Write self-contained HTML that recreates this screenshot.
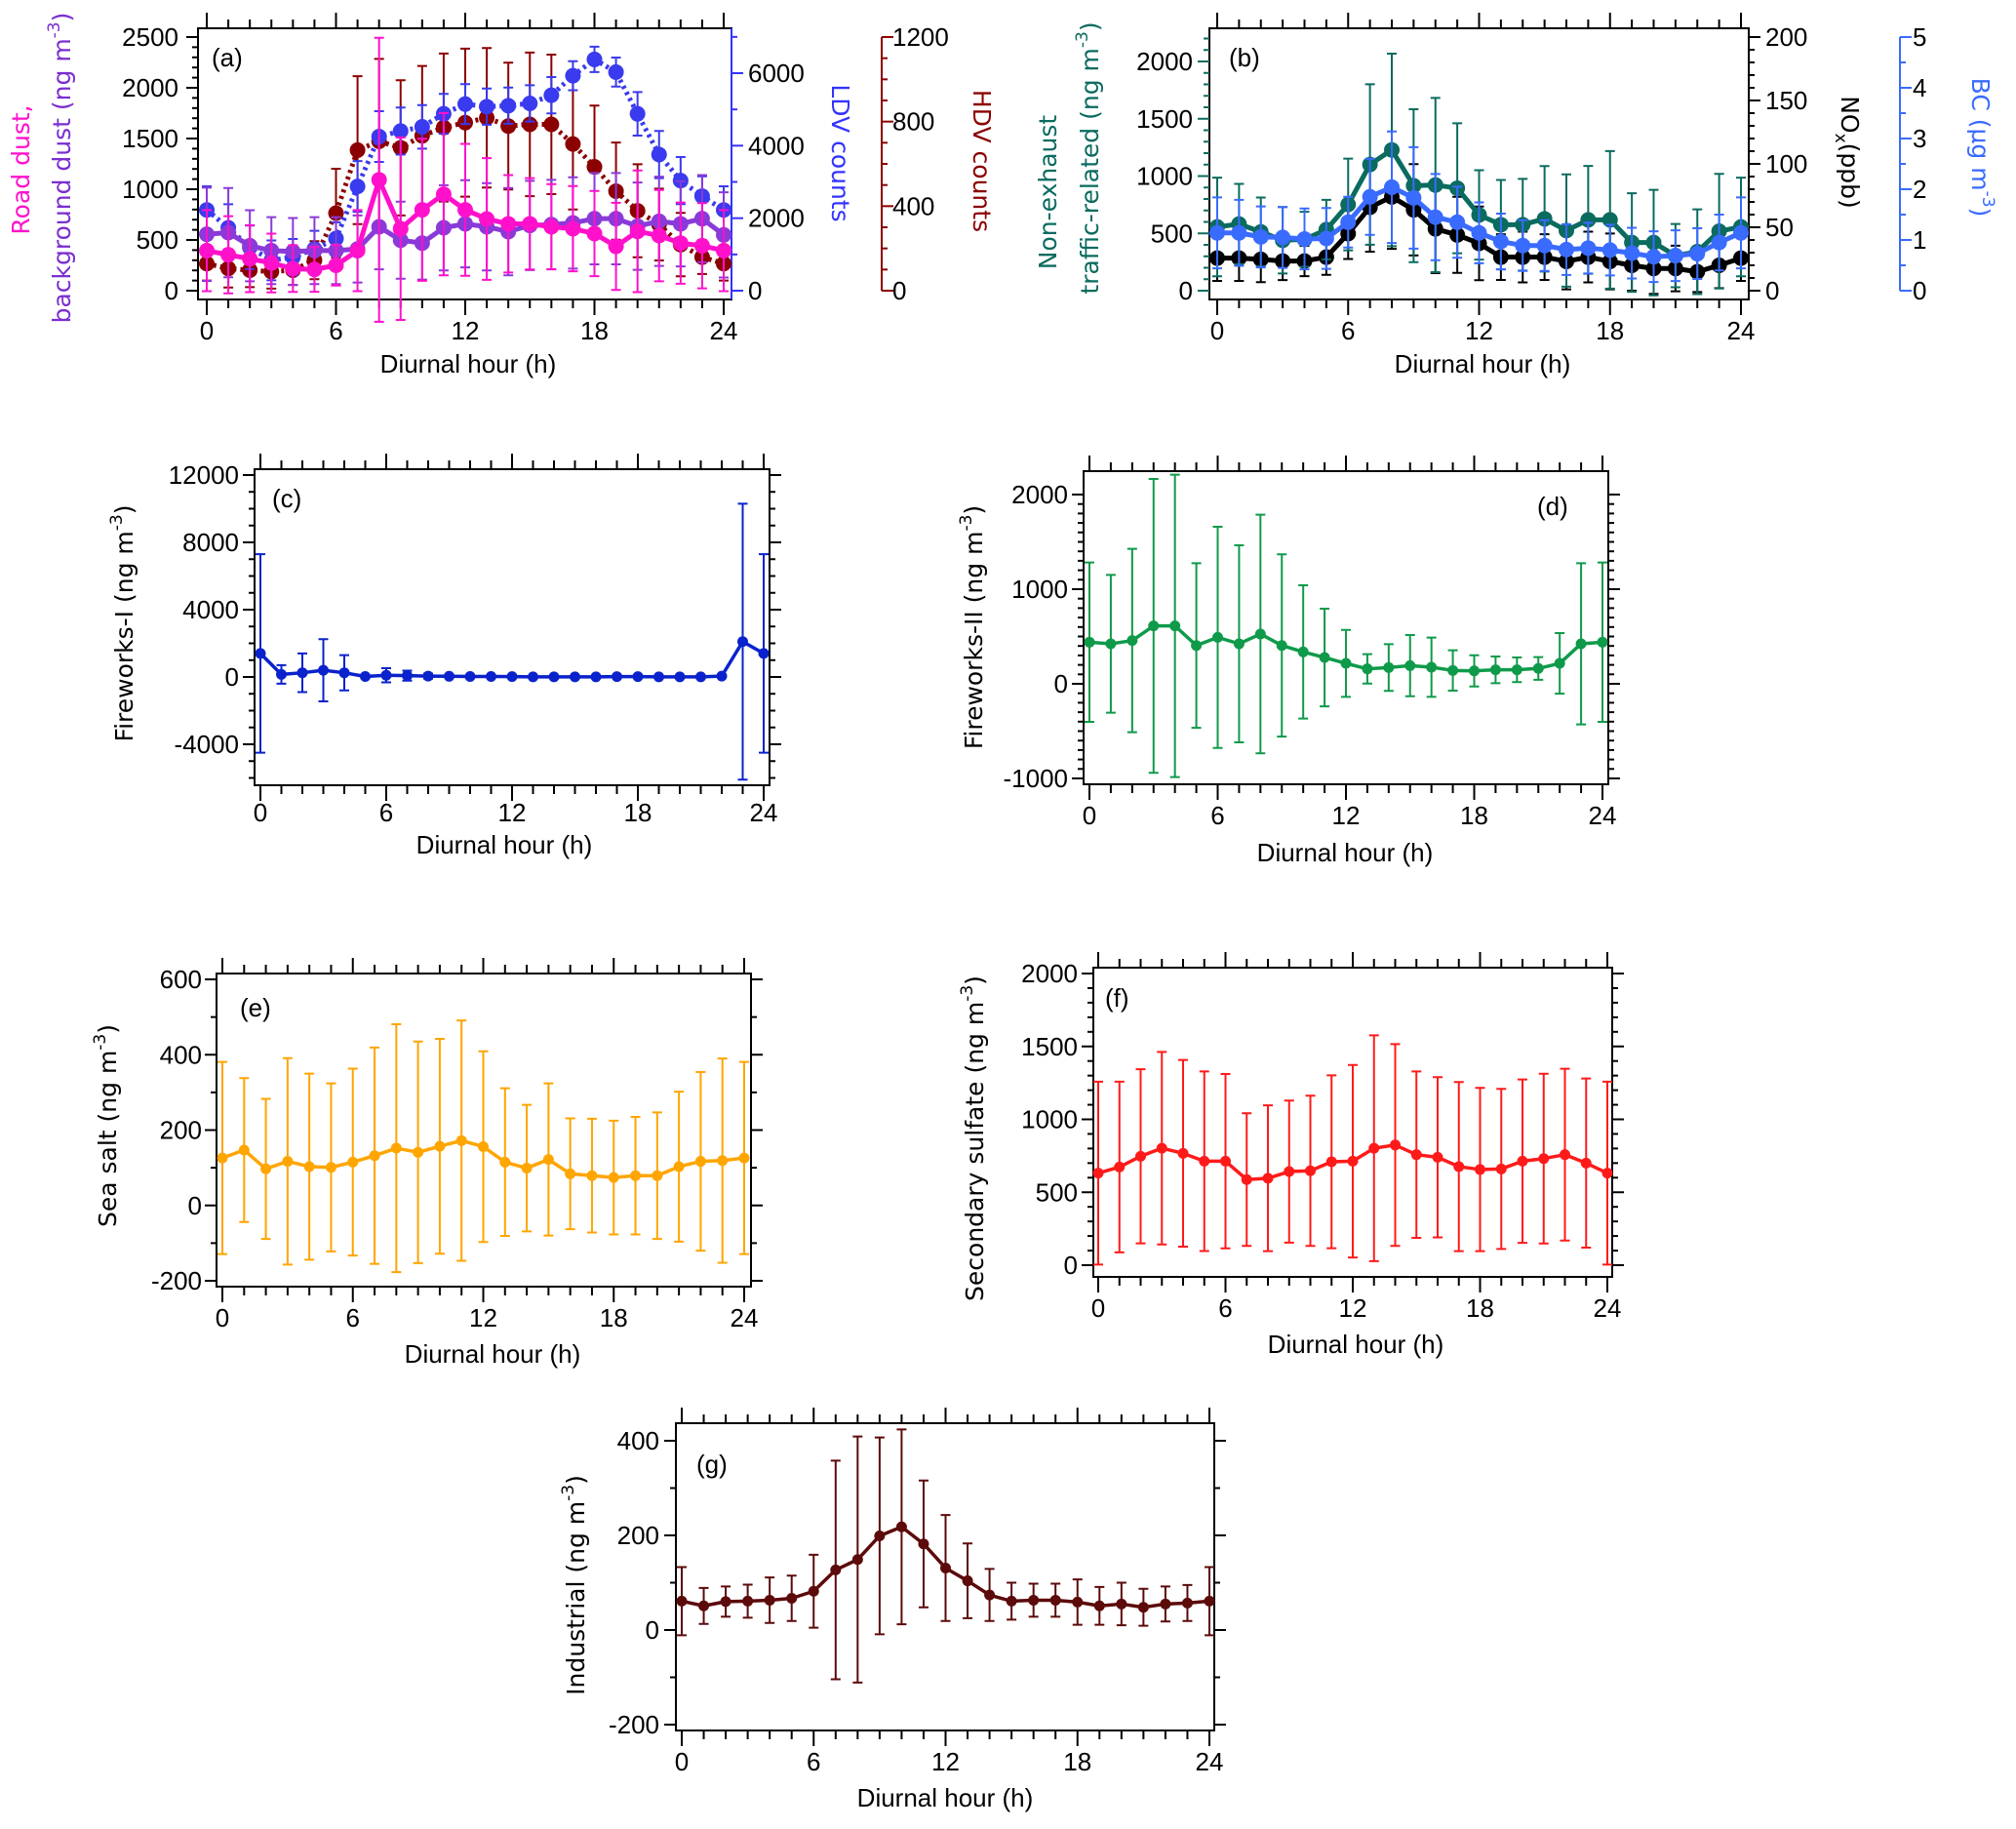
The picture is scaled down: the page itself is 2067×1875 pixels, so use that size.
<!DOCTYPE html>
<html><head><meta charset="utf-8">
<style>
html,body{margin:0;padding:0;background:#fff;}
svg{display:block;}
text{font-family:"Liberation Sans","DejaVu Sans",sans-serif;}
.t{font-size:26px;fill:#000;}
.ttl{font-family:"DejaVu Sans","Liberation Sans",sans-serif;font-size:25px;}
</style></head>
<body>
<svg id="fig" width="2067" height="1875" viewBox="0 0 2067 1875" xmlns="http://www.w3.org/2000/svg"></svg>
<script>
// ---------- data ----------
const hours = [0,1,2,3,4,5,6,7,8,9,10,11,12,13,14,15,16,17,18,19,20,21,22,23,24];
const roadDust = [395,354,315,273,218,209,250,395,1093,611,797,951,797,707,659,659,630,611,563,437,585,543,469,443,395];
const roadDustErr = [400,380,330,290,230,220,200,400,1400,900,700,800,650,600,480,450,420,420,420,430,600,450,400,420,400];
const bgDust = [556,572,443,395,386,395,395,411,630,498,469,620,659,630,582,643,652,668,710,710,636,684,659,710,550];
const bgDustErr = [460,440,350,330,330,330,330,330,420,380,360,420,430,430,430,440,440,450,450,450,430,440,420,430,420];
const ldv = [2228,1734,1195,836,926,1150,1438,2875,4250,4402,4519,4879,5148,5076,5103,5166,5391,5930,6379,6029,4879,3755,3037,2606,2228];
const ldvErr = [650,650,600,550,500,500,450,700,700,650,600,550,550,500,500,500,500,400,350,400,600,650,650,550,650];
const hdv = [128,105,97,90,97,144,367,665,707,676,733,772,795,818,779,787,787,694,586,471,378,313,218,159,128];
const hdvErr = [80,90,80,80,70,90,210,350,390,320,330,350,350,330,300,340,330,310,290,230,220,170,150,80,80];
const nonExhaust = [556,582,513,440,448,533,752,1101,1228,916,922,894,661,576,576,627,525,618,618,420,420,306,340,519,556];
const nonExhaustErr = [430,350,300,290,240,260,400,700,840,667,760,567,390,390,400,460,490,470,600,430,460,276,370,500,430];
const nox = [25.7,25.7,24.7,23.4,23.4,26.5,45,65.8,74,63.8,48.8,44,37.3,26.5,26.5,26.5,23.1,26.5,23.1,20,17.5,17.5,14.9,20,25.7];
const noxErr = [18,18,18,15,12,14,20,35,41,36,35,30,29,18,20,18,22,20,22,20,20,18,16,18,18];
const bc = [1.14,1.14,1.06,1.05,1.02,1.03,1.35,1.85,2.04,1.83,1.45,1.35,1.14,0.97,0.89,0.89,0.81,0.84,0.80,0.74,0.67,0.69,0.73,0.95,1.14];
const bcErr = [0.7,0.65,0.6,0.6,0.6,0.6,0.5,0.75,1.1,1.0,0.85,0.7,0.6,0.55,0.5,0.5,0.5,0.5,0.5,0.5,0.5,0.5,0.5,0.55,0.7];
const fw1 = [1400,150,250,400,250,30,100,80,50,40,30,30,20,10,10,10,10,20,20,10,10,10,50,2100,1400];
const fw1Err = [5900,550,1150,1850,1050,100,420,300,150,80,60,60,50,40,40,40,40,40,40,40,40,40,80,8200,5900];
const fw2 = [440,423,457,612,612,405,491,423,526,405,337,278,216,158,172,192,175,141,137,148,148,162,216,423,440];
const fw2Err = [842,728,969,1553,1598,870,1169,1041,1261,963,704,516,354,155,247,323,313,213,165,141,130,120,320,852,842];
const seaSalt = [126,147,97,117,103,101,115,132,152,141,157,172,156,115,99,122,84,79,74,79,79,103,117,119,126];
const seaSaltErr = [255,191,186,274,247,223,248,287,329,294,285,319,253,196,168,202,147,151,151,156,168,199,237,271,255];
const sulfate = [631,673,747,802,767,713,713,587,596,642,647,709,713,802,824,758,740,676,656,660,713,731,758,700,631];
const sulfateErr = [627,585,597,660,640,616,598,455,500,487,515,593,660,774,692,571,549,580,560,549,560,582,589,580,627];
const industrial = [61,51,60,61,63,67,82,127,149,199,218,182,131,104,74,61,63,63,59,51,55,48,55,57,61];
const industrialErr = [72,38,32,35,48,48,77,231,260,208,206,134,112,79,55,39,35,35,48,40,45,39,37,38,72];
const xTickLabels = ['0','6','12','18','24'];

// ---------- helpers ----------
const NS='http://www.w3.org/2000/svg';
const svg=document.getElementById('fig');
function mk(tag,attrs,parent){const e=document.createElementNS(NS,tag);for(const k in attrs)e.setAttribute(k,attrs[k]);(parent||svg).appendChild(e);return e;}
function lin(d0,d1,r0,r1){return v=>r0+(v-d0)*(r1-r0)/(d1-d0);}
function txt(parent,x,y,s,anchor,cls,fill,rot,name){
  const t=mk('text',{x:x,y:y,'text-anchor':anchor||'middle',class:cls||'t',fill:fill||'#000'},parent);
  if(rot) t.setAttribute('transform','rotate('+rot+' '+x+' '+y+')');
  t.textContent=s;
  
  
  return t;
}
function unitTitle(parent,x,y,pre,post,fill,rot,name){
  const t=mk('text',{x:x,y:y,'text-anchor':'middle',class:'ttl',fill:fill,transform:'rotate('+rot+' '+x+' '+y+')'},parent);
  
  
  const a=mk('tspan',{},t);a.textContent=pre;
  const b=mk('tspan',{dy:-11,'font-size':17},t);b.textContent='-3';
  const c=mk('tspan',{dy:11},t);c.textContent=post;
  return t;
}
function drawSeries(g,xs,ys,vals,errs,color,opt){
  const sg=mk('g',{},g);
  
  
  hours.forEach((h,i)=>{
    const x=xs(h),y1=ys(vals[i]+errs[i]),y2=ys(vals[i]-errs[i]);
    const eb=mk('path',{d:`M${x},${y1}V${y2}M${x-5},${y1}H${x+5}M${x-5},${y2}H${x+5}`,stroke:color,'stroke-width':opt.ew||2,fill:'none'},sg);
    
    
  });
  const d=hours.map((h,i)=>(i?'L':'M')+xs(h)+','+ys(vals[i])).join('');
  const ln=mk('path',{d:d,stroke:color,'stroke-width':opt.lw||3,fill:'none','stroke-dasharray':opt.dash||'none','stroke-linejoin':'round'},sg);
  
  
  hours.forEach((h,i)=>{
    const c=mk('circle',{cx:xs(h),cy:ys(vals[i]),r:opt.r||5,fill:opt.mfill||color},sg);
    
    
  });
}
function yTicks(g,x,ys,min,max,major,minor,side,color,labelX,anchor,fmt,name){
  const ag=mk('g',{},g);
  
  
  const dir=side==='left'?-1:1;
  for(let v=min;v<=max+1e-9;v+=minor){
    const isMaj=Math.abs(v/major-Math.round(v/major))<1e-6;
    const y=ys(v);
    mk('line',{x1:x,x2:x+dir*(isMaj?12:6),y1:y,y2:y,stroke:color,'stroke-width':2},ag);
    if(isMaj){
      txt(ag,labelX,y+9,fmt?fmt(v):String(Math.round(v)),anchor,'t',color,0,'tick-label');
    }
  }
}
function panel(c){
  const g=mk('g',{});
  
  
  const xs=lin(0,24,c.x0,c.x24);
  const bx=mk('rect',{x:c.L,y:c.T,width:c.R-c.L,height:c.B-c.T,fill:'none',stroke:'#000','stroke-width':2},g);
  
  
  const xg=mk('g',{},g);
  
  
  for(let h=0;h<=24;h++){
    const x=xs(h),maj=h%6===0,len=maj?16:9;
    mk('line',{x1:x,x2:x,y1:c.B,y2:c.B+len,stroke:'#000','stroke-width':2},xg);
    mk('line',{x1:x,x2:x,y1:c.T,y2:c.T-len,stroke:'#000','stroke-width':2},xg);
  }
  xTickLabels.forEach(s=>txt(xg,xs(+s),c.xlY,s,'middle','t','#000',0,'x-tick-label'));
  txt(xg,c.xtX,c.xtY,'Diurnal hour (h)','middle','t','#000',0,'x-axis-title');
  txt(g,c.lx,c.ly,c.label,'start','t','#000',0,'panel-label');
  return {g,xs};
}

// ---------- panel a ----------
(function(){
  const c={name:'panel-a',L:203,R:750,T:29,B:307,x0:212,x24:742,xlY:348,xtX:480,xtY:382,lx:217,ly:68,label:'(a)'};
  const {g,xs}=panel(c);
  const yl=lin(0,2500,298,38), yr=lin(0,6000,298,75), yh=lin(0,1200,298,38);
  mk('line',{x1:750,x2:750,y1:29,y2:307,stroke:'#3333ff','stroke-width':2},g);
  mk('line',{x1:904,x2:904,y1:38,y2:298,stroke:'#8b0000','stroke-width':2},g);
  yTicks(g,203,yl,0,2500,500,100,'left','#000',183,'end',null,'left-y-axis');
  yTicks(g,750,yr,0,7000,2000,1000,'right','#3333ff',767,'start',null,'ldv-y-axis');
  yTicks(g,904,yh,0,1200,400,100,'right','#8b0000',915,'start',null,'hdv-y-axis');
  drawSeries(g,xs,yh,hdv,hdvErr,'#8b0000',{name:'hdv-series',r:8,lw:5,dash:'3,4'});
  drawSeries(g,xs,yr,ldv,ldvErr,'#3a3aee',{name:'ldv-series',r:8,lw:5,dash:'3,4'});
  drawSeries(g,xs,yl,bgDust,bgDustErr,'#8a3ad8',{name:'background-dust-series',r:8,lw:5});
  drawSeries(g,xs,yl,roadDust,roadDustErr,'#ff11cc',{name:'road-dust-series',r:8,lw:5});
  txt(g,30,174,'Road dust,','middle','ttl','#ff11cc',-90,'road-dust-axis-title');
  unitTitle(g,72,172,'background dust (ng m',')','#7a2ed0',-90,'background-dust-axis-title');
  txt(g,853,157,'LDV counts','middle','ttl','#3333ff',90,'ldv-axis-title');
  txt(g,998,165,'HDV counts','middle','ttl','#8b0000',90,'hdv-axis-title');
})();

// ---------- panel b ----------
(function(){
  const c={name:'panel-b',L:1240,R:1793,T:29,B:307,x0:1248,x24:1785,xlY:348,xtX:1520,xtY:382,lx:1260,ly:68,label:'(b)'};
  const {g,xs}=panel(c);
  const yl=lin(0,2000,298,63), yn=lin(0,200,298,38), yb=lin(0,5,298,38);
  mk('line',{x1:1948,x2:1948,y1:38,y2:298,stroke:'#3a6bff','stroke-width':2},g);
  yTicks(g,1240,yl,0,2200,500,100,'left','#0b6b5f',1223,'end',null,'non-exhaust-y-axis');
  yTicks(g,1793,yn,0,200,50,10,'right','#000',1810,'start',null,'nox-y-axis');
  yTicks(g,1948,yb,0,5,1,0.5,'right','#3a6bff',1961,'start',null,'bc-y-axis');
  drawSeries(g,xs,yn,nox,noxErr,'#000',{name:'nox-series',r:8,lw:5});
  drawSeries(g,xs,yl,nonExhaust,nonExhaustErr,'#0b6b5f',{name:'non-exhaust-series',r:8,lw:5});
  drawSeries(g,xs,yb,bc,bcErr,'#3a6bff',{name:'bc-series',r:8,lw:5});
  txt(g,1083,197,'Non-exhaust','middle','ttl','#0b6b5f',-90,'non-exhaust-axis-title');
  unitTitle(g,1126,162,'traffic-related (ng m',')','#0b6b5f',-90,'traffic-related-axis-title');
  const t=mk('text',{x:1888,y:156,'text-anchor':'middle',class:'ttl',fill:'#000',transform:'rotate(90 1888 156)'},g);
  
  
  const a=mk('tspan',{},t);a.textContent='NO';
  const b=mk('tspan',{dy:6,'font-size':17},t);b.textContent='x';
  const cc=mk('tspan',{dy:-6},t);cc.textContent='(ppb)';
  unitTitle(g,2022,151,'BC (µg m',')','#3a6bff',90,'bc-axis-title');
})();

// ---------- single panels ----------
function single(c,vals,errs,color,min,max,major,minor,title,sname){
  const {g,xs}=panel(c);
  const ys=lin(c.v0,c.v1,c.y0,c.y1);
  yTicks(g,c.L,ys,min,max,major,minor,'left','#000',c.tlx,'end',null,'y-axis');
  yTicks(g,c.R,ys,min,max,major,minor,'right','#000',-999,'start',()=>'', 'right-y-axis');
  drawSeries(g,xs,ys,vals,errs,color,{name:sname,r:5.5,lw:3.5,ew:2});
  unitTitle(g,c.ytx,c.yty,title+' (ng m',')','#000',-90,'y-axis-title');
}
single({name:'panel-c',L:261,R:789,T:481,B:805,x0:267,x24:783,xlY:842,xtX:517,xtY:875,lx:279,ly:520,label:'(c)',v0:0,v1:12000,y0:694,y1:487,tlx:245,ytx:136,yty:639},
  fw1,fw1Err,'#0a22cc',-6000,12000,4000,1000,'Fireworks-I','fireworks-i-series');
single({name:'panel-d',L:1111,R:1649,T:483,B:804,x0:1117,x24:1643,xlY:845,xtX:1379,xtY:883,lx:1576,ly:528,label:'(d)',v0:0,v1:2000,y0:701,y1:507,tlx:1095,ytx:1007,yty:643},
  fw2,fw2Err,'#0f9a4a',-1000,2000,1000,100,'Fireworks-II','fireworks-ii-series');
single({name:'panel-e',L:222,R:770,T:998,B:1319,x0:228,x24:763,xlY:1360,xtX:505,xtY:1397,lx:246,ly:1042,label:'(e)',v0:-200,v1:600,y0:1313,y1:1004,tlx:207,ytx:119,yty:1154},
  seaSalt,seaSaltErr,'#ffa500',-200,600,200,100,'Sea salt','sea-salt-series');
single({name:'panel-f',L:1121,R:1653,T:992,B:1309,x0:1126,x24:1648,xlY:1350,xtX:1390,xtY:1387,lx:1133,ly:1032,label:'(f)',v0:0,v1:2000,y0:1297,y1:998,tlx:1105,ytx:1008,yty:1167},
  sulfate,sulfateErr,'#ff1a1a',0,2000,500,100,'Secondary sulfate','secondary-sulfate-series');
single({name:'panel-g',L:693,R:1245,T:1459,B:1774,x0:699,x24:1240,xlY:1815,xtX:969,xtY:1852,lx:714,ly:1510,label:'(g)',v0:-200,v1:400,y0:1768,y1:1477,tlx:676,ytx:599,yty:1625},
  industrial,industrialErr,'#5c0a0a',-200,400,200,100,'Industrial','industrial-series');
</script>
</body></html>
